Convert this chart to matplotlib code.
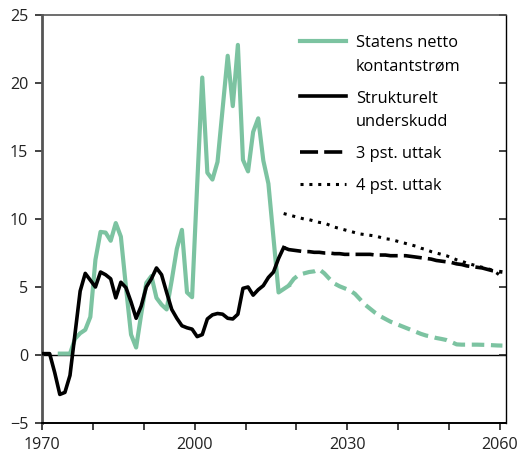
import matplotlib
matplotlib.use("Agg")
import matplotlib.pyplot as plt
import numpy as np

plt.rcParams['font.family'] = ['Open Sans', 'DejaVu Sans']

# ---- data (values in per cent) ----
cash_years = list(range(1973, 2019))
cash_vals = [0.1, 0.1, 0.1, 1.2, 1.6, 1.85, 2.8, 7.0, 9.05, 9.0,
             8.4, 9.7, 8.7, 5.0, 1.5, 0.55, 3.0, 5.3, 5.8, 4.2,
             3.7, 3.35, 5.5, 7.8, 9.2, 4.6, 4.25, 12.5, 20.4, 13.4,
             12.9, 14.2, 18.1, 22.0, 18.3, 22.8, 14.35, 13.5, 16.4, 17.4,
             14.3, 12.6, 8.6, 4.6, 4.85, 5.1]

struct_years = list(range(1969, 2018))
struct_vals = [0.1, 0.1, 0.1, -1.3, -2.9, -2.75, -1.5, 1.6, 4.7, 6.0,
               5.5, 5.0, 6.1, 5.9, 5.6, 4.2, 5.35, 4.95, 3.9, 2.7,
               3.6, 5.0, 5.6, 6.4, 5.9, 4.6, 3.35, 2.7, 2.15, 2.0,
               1.9, 1.35, 1.5, 2.65, 2.95, 3.05, 3.0, 2.7, 2.65, 3.0,
               4.9, 5.0, 4.4, 4.8, 5.1, 5.7, 6.1, 7.1, 7.9]

cash_proj_years = list(range(2018, 2061))
cash_proj_vals = [5.1, 5.6, 5.9, 6.0, 6.1, 6.15, 6.3, 6.0, 5.6, 5.25,
                  5.05, 4.9, 4.75, 4.5, 4.1, 3.7, 3.4, 3.1, 2.85, 2.65,
                  2.45, 2.3, 2.15, 2.0, 1.85, 1.7, 1.55, 1.43, 1.35, 1.25,
                  1.18, 1.1, 0.95, 0.78, 0.76, 0.76, 0.76, 0.76, 0.75, 0.74,
                  0.72, 0.7, 0.69]

proj_years = list(range(2017, 2061))
pst3_vals = [7.9, 7.75, 7.7, 7.65, 7.6, 7.6, 7.55, 7.55, 7.5, 7.5,
             7.45, 7.45, 7.4, 7.4, 7.4, 7.4, 7.4, 7.4, 7.35, 7.35,
             7.35, 7.3, 7.3, 7.3, 7.3, 7.25, 7.2, 7.15, 7.1, 7.05,
             6.95, 6.9, 6.85, 6.8, 6.7, 6.65, 6.55, 6.5, 6.45, 6.4,
             6.3, 6.2, 6.15, 6.1]
pst4_vals = [10.4, 10.3, 10.2, 10.1, 10.0, 9.95, 9.85, 9.75, 9.7, 9.55,
             9.4, 9.3, 9.2, 9.1, 9.0, 8.9, 8.85, 8.8, 8.75, 8.65,
             8.55, 8.5, 8.4, 8.3, 8.2, 8.1, 8.0, 7.85, 7.75, 7.6,
             7.5, 7.4, 7.3, 7.15, 7.0, 6.9, 6.75, 6.65, 6.55, 6.45,
             6.35, 6.25, 6.0, 5.7]

labels = ["Statens netto\nkontantstrøm", "Strukturelt\nunderskudd",
          "3 pst. uttak", "4 pst. uttak"]
xtick_vals = list(range(1970, 2061, 10))
xtick_labels = ["1970", "", "", "2000", "", "", "2030", "", "", "2060"]
ytick_vals = [-5, 0, 5, 10, 15, 20, 25]

GREEN = "#7cc3a1"
MID = 0.5  # values are plotted at mid-year

fig = plt.figure(figsize=(5.18, 4.54), dpi=100)
ax = fig.add_axes([0.0811, 0.0683, 0.8957, 0.8987])

ax.axhline(0, color="black", lw=1.0, zorder=1)

x = lambda ys: np.array(ys) + MID

l1, = ax.plot(x(cash_years), cash_vals, color=GREEN, lw=3.0, zorder=2)
ax.plot(x(cash_proj_years), cash_proj_vals, color=GREEN, lw=3.0,
        dashes=(3.0, 1.6), zorder=2)
l2, = ax.plot(x(struct_years), struct_vals, color="black", lw=2.6, zorder=3)
l3, = ax.plot(x(proj_years), pst3_vals, color="black", lw=2.6,
              dashes=(5.0, 1.7), zorder=3)
l4, = ax.plot(x(proj_years), pst4_vals, color="black", lw=2.2,
              dashes=(1.0, 1.9), zorder=3)

ax.set_xlim(1970, 2061.2)
ax.set_ylim(-5, 25)
ax.set_xticks(xtick_vals)
ax.set_xticklabels(xtick_labels)
ax.set_yticks(ytick_vals)
ax.tick_params(axis="both", labelsize=11.6, colors="#222222", length=5, width=1.2)
ax.tick_params(axis="x", direction="out", pad=5)
ax.tick_params(axis="y", direction="out", left=True, right=True, pad=5)

ax.spines["left"].set_color("#555555")
ax.spines["left"].set_linewidth(2.0)
ax.spines["top"].set_color("#555555")
ax.spines["top"].set_linewidth(1.2)
ax.spines["bottom"].set_color("black")
ax.spines["bottom"].set_linewidth(1.4)
ax.spines["right"].set_color("black")
ax.spines["right"].set_linewidth(1.0)

# right ticks inward
for t in ax.yaxis.get_major_ticks():
    t.tick2line.set_marker(matplotlib.lines.TICKLEFT)

LEG_FS = 11.8
LS = 1.6
leg = ax.legend([l1, l2, l3, l4], labels, loc="upper left",
                bbox_to_anchor=(0.556, 0.95), frameon=False, fontsize=LEG_FS,
                handlelength=2.8, handletextpad=0.62, labelspacing=0.98,
                borderaxespad=0, borderpad=0)
for t in leg.get_texts():
    t.set_linespacing(LS)

# align handles of two-line labels with their first line
fig.canvas.draw()
r = fig.canvas.get_renderer()
texts = leg.get_texts()
single_h = min(t.get_window_extent(r).height for t in texts
               if "\n" not in t.get_text())
for h, t in zip(leg.legend_handles, texts):
    n = t.get_text().count("\n")
    if n:
        bb = t.get_window_extent(r)
        pitch = (bb.height - single_h) / n
        shift_px = pitch * n / 2.0 + 2.5
        shift_pt = shift_px * 72.0 / fig.dpi
        h.set_ydata(np.asarray(h.get_ydata()) + shift_pt)

fig.savefig("out.png", dpi=100)
